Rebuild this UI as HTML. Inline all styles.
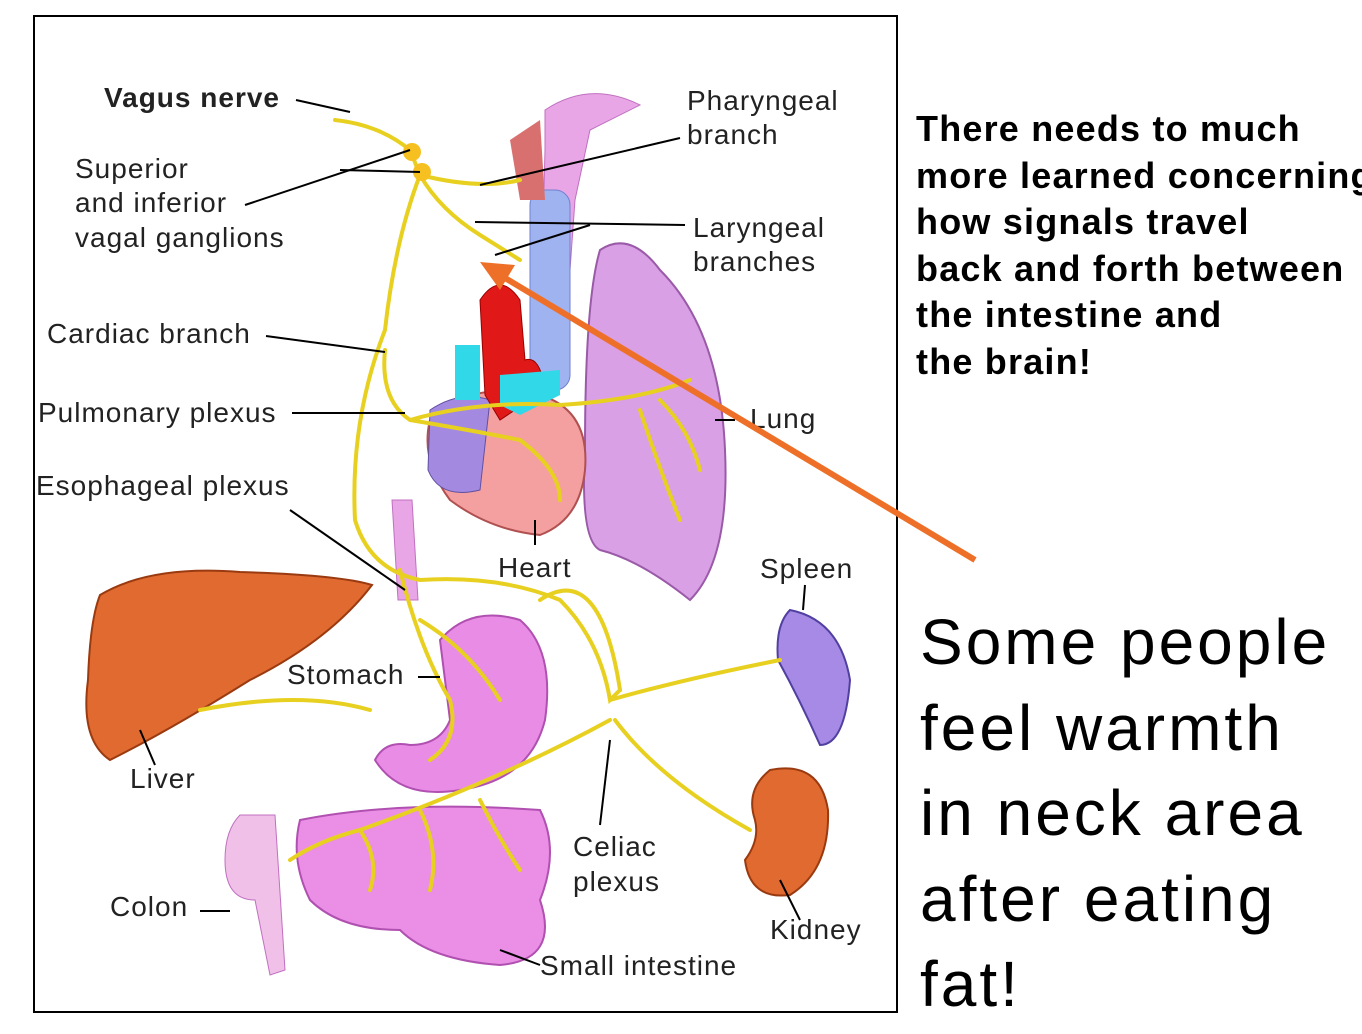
<!DOCTYPE html>
<html><head><meta charset="utf-8"><style>
html,body{margin:0;padding:0;background:#fff;}
body{width:1362px;height:1034px;position:relative;overflow:hidden;font-family:"Liberation Sans",sans-serif;}
svg{position:absolute;left:0;top:0;}
.t{position:absolute;left:916px;top:106px;font-weight:bold;font-size:36px;letter-spacing:1.2px;line-height:46.6px;color:#000;white-space:nowrap;}
.b{position:absolute;left:920px;top:600px;font-size:64px;letter-spacing:3px;line-height:85.5px;color:#000;white-space:nowrap;}
</style></head><body>
<svg width="1362" height="1034" viewBox="0 0 1362 1034" font-family="Liberation Sans, sans-serif">
<rect x="34" y="16" width="863" height="996" fill="#fff" stroke="#000" stroke-width="2"/>
<path d="M545 150 L545 110 Q590 80 640 105 L590 130 L575 200 L565 340 L540 340 Z" fill="#e9a6e6" stroke="#c070c0"/>
<rect x="530" y="190" width="40" height="200" rx="15" fill="#9fb3f0" stroke="#7080d0"/>
<path d="M510 140 L540 120 L545 200 L520 200 Z" fill="#d97070"/>
<path d="M600 250 Q630 230 660 270 Q720 330 725 450 Q730 560 690 600 Q640 560 600 550 Q580 540 585 450 Q585 300 600 250 Z" fill="#d9a0e6" stroke="#9a5aa8" stroke-width="2"/>
<path d="M430 420 Q470 380 540 395 Q590 410 585 470 Q580 520 540 535 Q490 530 450 500 Q420 460 430 420 Z" fill="#f4a0a0" stroke="#b05050" stroke-width="2"/>
<path d="M430 410 Q460 390 490 400 L480 490 Q440 500 428 470 Z" fill="#a38ae0" stroke="#6050a0"/>
<path d="M485 395 L480 300 Q500 270 520 300 L525 360 Q540 355 545 390 L500 420 Z" fill="#e01818" stroke="#900"/>
<path d="M455 345 L480 345 L480 400 L455 400 Z" fill="#30d8e8"/>
<path d="M500 375 L560 370 L560 395 L520 415 L500 405 Z" fill="#30d8e8"/>
<path d="M392 500 L412 500 L418 600 L398 600 Z" fill="#e9a6e6" stroke="#c070c0"/>
<path d="M100 595 Q150 565 240 572 Q340 575 372 585 Q330 640 250 680 Q170 730 110 760 Q80 740 88 680 Q90 620 100 595 Z" fill="#e06a30" stroke="#9a3a10" stroke-width="2"/>
<path d="M440 640 Q470 605 520 620 Q555 650 545 720 Q530 780 460 790 Q400 800 375 760 Q385 740 410 745 Q440 745 450 720 Q445 680 440 640 Z" fill="#e98ce6" stroke="#b050b0" stroke-width="2"/>
<path d="M790 610 Q840 620 850 680 Q845 745 820 745 Q800 700 778 660 Q775 625 790 610 Z" fill="#a78ae6" stroke="#5040a0" stroke-width="2"/>
<path d="M770 770 Q820 760 828 810 Q830 870 790 895 Q750 900 745 860 Q760 840 755 820 Q745 790 770 770 Z" fill="#e06a30" stroke="#9a3a10" stroke-width="2"/>
<path d="M240 815 L275 815 L285 970 L270 975 L255 900 Q225 900 225 860 Q225 830 240 815 Z" fill="#f0c0e8" stroke="#c070c0"/>
<path d="M300 820 Q400 800 540 810 Q560 850 540 900 Q560 960 500 965 Q430 960 400 930 Q340 930 310 900 Q290 860 300 820 Z" fill="#ea8ee6" stroke="#b050b0" stroke-width="2"/>
<g fill="none" stroke="#e8d020" stroke-width="4" stroke-linecap="round">
<path d="M335 120 Q380 125 410 150 L420 175"/>
<path d="M420 175 Q395 240 385 330 Q350 420 355 520 Q370 570 420 580 Q500 575 560 600 Q600 640 610 700 L620 690"/>
<path d="M420 175 Q440 210 480 235 L520 260"/>
<path d="M420 175 Q480 190 520 180"/>
<path d="M385 350 Q380 400 410 420 Q470 430 520 440 Q560 470 560 500"/>
<path d="M410 420 Q480 400 560 405 Q640 400 690 380"/>
<path d="M640 410 Q660 470 680 520"/>
<path d="M660 400 Q690 430 700 470"/>
<path d="M400 570 Q420 650 450 700 Q460 740 430 760"/>
<path d="M420 620 Q470 650 500 700"/>
<path d="M370 710 Q300 690 200 710"/>
<path d="M610 700 Q680 680 780 660"/>
<path d="M615 720 Q660 780 750 830"/>
<path d="M610 720 Q500 780 360 830 Q320 840 290 860"/>
<path d="M420 810 Q440 850 430 890"/><path d="M360 830 Q380 860 370 890"/><path d="M480 800 Q500 840 520 870"/>
<path d="M540 600 Q600 560 620 690"/>
</g>
<circle cx="412" cy="152" r="9" fill="#f5c020"/><circle cx="422" cy="172" r="9" fill="#f5c020"/>
<g stroke="#000" stroke-width="2" fill="none">
<path d="M296 100 L350 112"/><path d="M245 205 L410 150"/><path d="M340 170 L420 172"/>
<path d="M680 138 L480 185"/><path d="M685 225 L475 222"/><path d="M590 225 L495 255"/>
<path d="M266 336 L385 352"/><path d="M292 413 L405 413"/><path d="M290 510 L405 590"/>
<path d="M535 520 L535 545"/><path d="M805 585 L803 610"/><path d="M715 420 L735 420"/>
<path d="M418 677 L440 677"/><path d="M140 730 L155 765"/><path d="M200 911 L230 911"/>
<path d="M600 825 L610 740"/><path d="M780 880 L800 920"/><path d="M500 950 L540 965"/>
</g>
<g font-size="28" fill="#222" letter-spacing="1">
<text x="104" y="107" font-weight="bold">Vagus nerve</text>
<text x="75" y="178">Superior</text><text x="75" y="212">and inferior</text><text x="75" y="247">vagal ganglions</text>
<text x="687" y="110">Pharyngeal</text><text x="687" y="144">branch</text>
<text x="693" y="237">Laryngeal</text><text x="693" y="271">branches</text>
<text x="47" y="343">Cardiac branch</text>
<text x="38" y="422">Pulmonary plexus</text>
<text x="36" y="495">Esophageal plexus</text>
<text x="750" y="428">Lung</text>
<text x="498" y="577">Heart</text>
<text x="760" y="578">Spleen</text>
<text x="287" y="684">Stomach</text>
<text x="130" y="788">Liver</text>
<text x="573" y="856">Celiac</text><text x="573" y="891">plexus</text>
<text x="110" y="916">Colon</text>
<text x="770" y="939">Kidney</text>
<text x="540" y="975">Small intestine</text>
</g>
<line x1="975" y1="560" x2="500" y2="275" stroke="#ee7028" stroke-width="6"/>
<polygon points="480,262 515,265 500,290" fill="#ee7028"/>
</svg>
<div class="t">There needs to much<br>more learned concerning<br>how signals travel<br>back and forth between<br>the intestine and<br>the brain!</div>
<div class="b">Some people<br>feel warmth<br>in neck area<br>after eating<br>fat!</div>
</body></html>
